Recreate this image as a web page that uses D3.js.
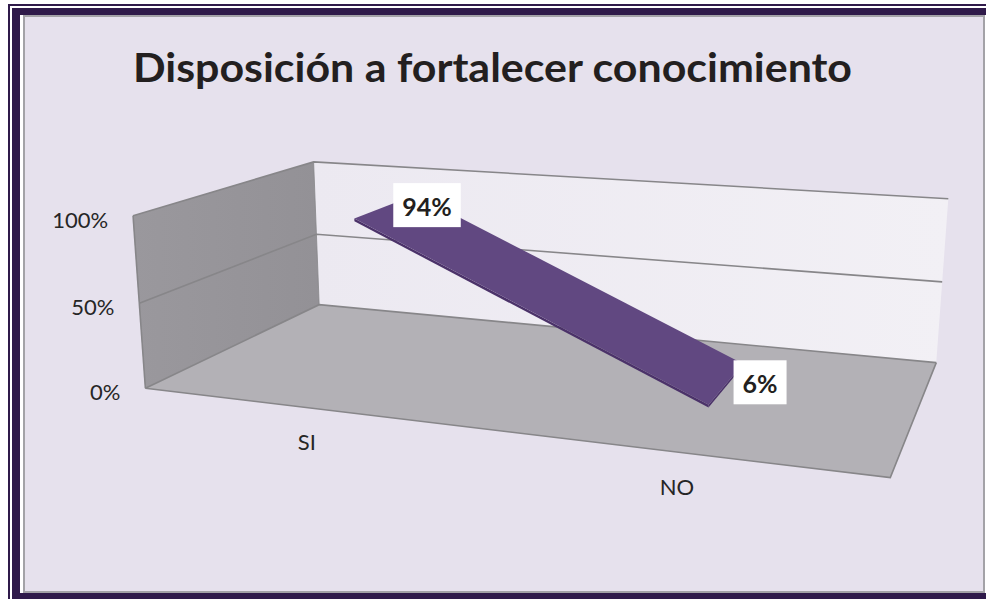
<!DOCTYPE html>
<html>
<head>
<meta charset="utf-8">
<script src="https://cdn.jsdelivr.net/npm/d3@7/dist/d3.min.js"></script>
<style>
  html, body { margin: 0; padding: 0; background: #ffffff; }
  svg { display: block; }
</style>
</head>
<body>
<svg id="chart" width="986" height="599"></svg>
<script>
// ---- data ----
const title = "Disposición a fortalecer conocimiento";
const categories = ["SI", "NO"];
const values = [0.94, 0.06];
const valueLabels = ["94%", "6%"];
const yTicks = [0, 0.5, 1];
const tickLabels = ["0%", "50%", "100%"];

// ---- 3D box: unit cube (u = category, v = value, w = depth) and where its corners sit on screen ----
const boxAnchors = [
  [[0, 0, 0], [145, 389]],
  [[0, 1, 0], [133, 215]],
  [[0, 0, 1], [319, 304]],
  [[0, 1, 1], [313, 162]],
  [[1, 0, 1], [936, 362]],
  [[1, 1, 1], [948, 199]],
  [[1, 0, 0], [890, 478]],
  [[0, 0.5, 0], [140, 303]],
  [[0, 0.5, 1], [317, 235]],
  [[1, 0.5, 1], [943, 282]]
];

// least-squares fit of a 3x4 projective camera (p34 = 1)
function solve(A, b) {
  const n = b.length;
  const M = A.map((r, i) => r.concat([b[i]]));
  for (let c = 0; c < n; c++) {
    let p = c;
    for (let r = c + 1; r < n; r++) if (Math.abs(M[r][c]) > Math.abs(M[p][c])) p = r;
    [M[c], M[p]] = [M[p], M[c]];
    for (let r = 0; r < n; r++) {
      if (r === c) continue;
      const f = M[r][c] / M[c][c];
      for (let k = c; k <= n; k++) M[r][k] -= f * M[c][k];
    }
  }
  return M.map((r, i) => r[n] / r[i]);
}
function fitCamera(pairs) {
  const rows = [], rhs = [];
  pairs.forEach(([[u, v, w], [x, y]]) => {
    rows.push([u, v, w, 1, 0, 0, 0, 0, -x * u, -x * v, -x * w]); rhs.push(x);
    rows.push([0, 0, 0, 0, u, v, w, 1, -y * u, -y * v, -y * w]); rhs.push(y);
  });
  const N = 11;
  const AtA = d3.range(N).map(() => new Array(N).fill(0));
  const Atb = new Array(N).fill(0);
  rows.forEach((r, k) => {
    for (let i = 0; i < N; i++) {
      Atb[i] += r[i] * rhs[k];
      for (let j = 0; j < N; j++) AtA[i][j] += r[i] * r[j];
    }
  });
  return solve(AtA, Atb);
}
const P = fitCamera(boxAnchors);
function project([u, v, w]) {
  const d = P[8] * u + P[9] * v + P[10] * w + 1;
  return [(P[0] * u + P[1] * v + P[2] * w + P[3]) / d,
          (P[4] * u + P[5] * v + P[6] * w + P[7]) / d];
}

// ---- scales ----
const x = d3.scalePoint().domain(categories).range([0, 1]).padding(0.5);
const y = d3.scaleLinear().domain([0, 1]).range([0, 1]);

const svg = d3.select("#chart");
const line = d3.line();
const poly = pts => line(pts.map(project)) + "Z";

// ---- outer frame ----
const DARK = "#2f1a4a";
svg.append("rect").attr("x", 8).attr("y", 4).attr("width", 978).attr("height", 595).attr("fill", DARK);
svg.append("rect").attr("x", 10).attr("y", 6).attr("width", 976).attr("height", 593).attr("fill", "#ffffff");
svg.append("rect").attr("x", 12).attr("y", 8).attr("width", 974).attr("height", 591).attr("fill", DARK);
svg.append("rect").attr("x", 20).attr("y", 15).attr("width", 966).attr("height", 578).attr("fill", "#ffffff");
svg.append("rect").attr("x", 23).attr("y", 15).attr("width", 962).attr("height", 578).attr("fill", "#a3a2a7");
svg.append("rect").attr("x", 25).attr("y", 17).attr("width", 958).attr("height", 574).attr("fill", "#e6e1ed");

// ---- title ----
const titleText = svg.append("text")
  .attr("x", 492.5).attr("y", 82)
  .attr("text-anchor", "middle")
  .attr("font-family", "Lato, 'Open Sans', sans-serif")
  .attr("font-weight", 700)
  .attr("font-size", 40)
  .attr("fill", "#231f20")
  .text(title);
const tw = titleText.node().getComputedTextLength();
if (Math.abs(tw - 719) > 4) titleText.attr("textLength", 719).attr("lengthAdjust", "spacingAndGlyphs");

// ---- gradients ----
const defs = svg.append("defs");
const gBack = defs.append("linearGradient").attr("id", "backWall").attr("x1", 0).attr("y1", 0).attr("x2", 1).attr("y2", 0);
gBack.append("stop").attr("offset", 0).attr("stop-color", "#ecE9f1");
gBack.append("stop").attr("offset", 1).attr("stop-color", "#f2f0f5");
const gSide = defs.append("linearGradient").attr("id", "sideWall").attr("x1", 0).attr("y1", 0).attr("x2", 1).attr("y2", 0);
gSide.append("stop").attr("offset", 0).attr("stop-color", "#9a989d");
gSide.append("stop").attr("offset", 1).attr("stop-color", "#939196");

const EDGE = "#878689";

// ---- walls and floor ----
svg.append("path").attr("d", poly([[0, 0, 1], [1, 0, 1], [1, 1, 1], [0, 1, 1]]))
  .attr("fill", "url(#backWall)");
svg.append("path").attr("d", poly([[0, 0, 0], [0, 0, 1], [0, 1, 1], [0, 1, 0]]))
  .attr("fill", "url(#sideWall)");
svg.append("path").attr("d", poly([[0, 0, 0], [1, 0, 0], [1, 0, 1], [0, 0, 1]]))
  .attr("fill", "#b3b1b6");

// gridlines at every value tick along the side and back walls
const grid = svg.append("g").attr("fill", "none").attr("stroke", EDGE).attr("stroke-width", 1.6);
yTicks.forEach(t => {
  grid.append("path").attr("d", line([[0, y(t), 0], [0, y(t), 1], [1, y(t), 1]].map(project)));
});
// box outlines
grid.append("path").attr("d", line([[0, 0, 0], [0, 1, 0]].map(project)));
grid.append("path").attr("d", line([[0, 0, 1], [0, 1, 1]].map(project))).attr("stroke-width", 0.8);
grid.append("path").attr("d", line([[0, 0, 0], [1, 0, 0], [1, 0, 1]].map(project)));

// ---- value axis labels ----
const tickG = svg.append("g")
  .attr("font-family", "Lato, 'Open Sans', sans-serif")
  .attr("font-size", 22)
  .attr("fill", "#262626")
  .attr("text-anchor", "end");
yTicks.forEach((t, i) => {
  const [px, py] = project([0, y(t), 0]);
  tickG.append("text").attr("x", px - 25).attr("y", py + 3.5)
    .attr("dominant-baseline", "central").text(tickLabels[i]);
});

// ---- category labels along the front floor edge ----
const catG = svg.append("g")
  .attr("font-family", "Lato, 'Open Sans', sans-serif")
  .attr("font-size", 22)
  .attr("fill", "#262626")
  .attr("text-anchor", "middle");
categories.forEach(c => {
  const [px, py] = project([x(c), 0, 0]);
  catG.append("text").attr("x", px - 1).attr("y", py + 34)
    .attr("dominant-baseline", "central").text(c);
});

// ---- 3D ribbon for the series ----
const wFront = 0.3, wBack = 0.7, thick = 0.016;
const pts = categories.map((c, i) => [x(c), y(values[i])]);
const ribbon = svg.append("g");
for (let i = 0; i < pts.length - 1; i++) {
  const [u0, v0] = pts[i], [u1, v1] = pts[i + 1];
  // front side face
  ribbon.append("path").attr("d", poly([[u0, v0, wFront], [u1, v1, wFront], [u1, v1 - thick, wFront], [u0, v0 - thick, wFront]]))
    .attr("fill", "#4b3269");
  // end face
  ribbon.append("path").attr("d", poly([[u1, v1, wFront], [u1, v1, wBack], [u1, v1 - thick, wBack], [u1, v1 - thick, wFront]]))
    .attr("fill", "#4b3269");
  // top face
  ribbon.append("path").attr("d", poly([[u0, v0, wFront], [u1, v1, wFront], [u1, v1, wBack], [u0, v0, wBack]]))
    .attr("fill", "#614881");
}

// ---- data labels ----
const labG = svg.append("g");
categories.forEach((c, i) => {
  const [ax, ay] = project([x(c), y(values[i]), 0.5]);
  const g = labG.append("g");
  const txt = g.append("text")
    .attr("font-family", "Lato, 'Open Sans', sans-serif")
    .attr("font-weight", 700)
    .attr("font-size", 25)
    .attr("fill", "#231f20")
    .attr("dominant-baseline", "central")
    .attr("text-anchor", "middle")
    .text(valueLabels[i]);
  const w = txt.node().getComputedTextLength() + 18, h = 44;
  const left = ax + 7, cy = ay - 1;
  g.insert("rect", "text").attr("x", left).attr("y", cy - h / 2).attr("width", w).attr("height", h).attr("fill", "#ffffff");
  txt.attr("x", left + w / 2).attr("y", cy + 1);
});
</script>
</body>
</html>
